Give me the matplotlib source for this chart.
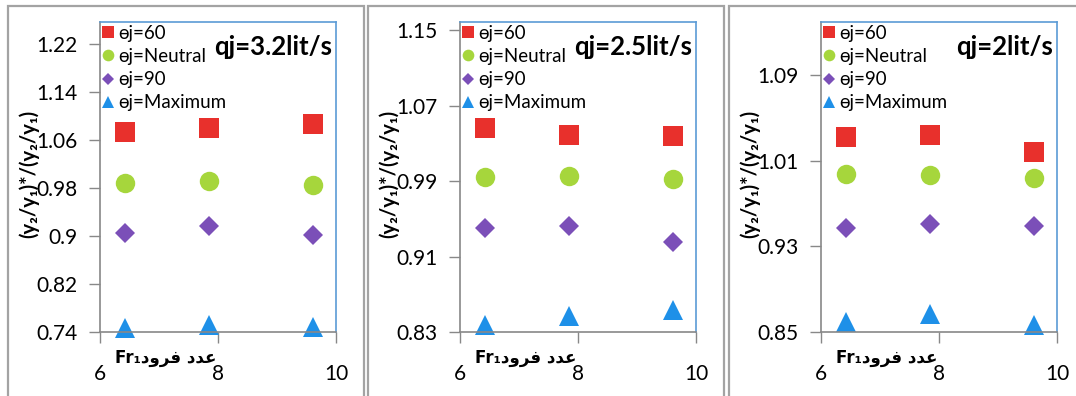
import matplotlib
matplotlib.use("Agg")
from matplotlib import pyplot as plt
from matplotlib.patches import Rectangle

plt.rcParams["font.family"] = ["Lato", "DejaVu Sans"]

# Froude number positions (same for every panel)
fr1 = [6.42, 7.84, 9.61]

series_labels = ["ɵj=60", "ɵj=Neutral", "ɵj=90", "ɵj=Maximum"]

titles = ["qj=3.2lit/s", "qj=2.5lit/s", "qj=2lit/s"]

# qj = 3.2 lit/s
q32_60 = [1.074, 1.080, 1.087]
q32_neutral = [0.988, 0.992, 0.985]
q32_90 = [0.905, 0.916, 0.902]
q32_max = [0.747, 0.752, 0.748]

# qj = 2.5 lit/s
q25_60 = [1.047, 1.039, 1.038]
q25_neutral = [0.995, 0.996, 0.992]
q25_90 = [0.940, 0.943, 0.926]
q25_max = [0.837, 0.847, 0.853]

# qj = 2 lit/s
q2_60 = [1.032, 1.034, 1.018]
q2_neutral = [0.998, 0.997, 0.994]
q2_90 = [0.947, 0.951, 0.949]
q2_max = [0.859, 0.867, 0.857]

y_ticks = [
    [0.74, 0.82, 0.90, 0.98, 1.06, 1.14, 1.22],
    [0.83, 0.91, 0.99, 1.07, 1.15],
    [0.85, 0.93, 1.01, 1.09],
]
y_ticklabels = [
    ["0.74", "0.82", "0.9", "0.98", "1.06", "1.14", "1.22"],
    ["0.83", "0.91", "0.99", "1.07", "1.15"],
    ["0.85", "0.93", "1.01", "1.09"],
]
y_limits = [(0.74, 1.257), (0.83, 1.159), (0.85, 1.140)]
x_ticks = [6, 8, 10]

panels = [
    [q32_60, q32_neutral, q32_90, q32_max],
    [q25_60, q25_neutral, q25_90, q25_max],
    [q2_60, q2_neutral, q2_90, q2_max],
]

styles = [
    dict(marker="s", color="#E8302C", ms=14),
    dict(marker="o", color="#A6D63C", ms=14),
    dict(marker="D", color="#7B4FB8", ms=10.5),
    dict(marker="^", color="#1E90E8", ms=14.5),
]

# Arabic "عدد فرود" in presentation forms, visual (left-to-right) order
x_label = "Fr\u2081\uFEA9\uFEED\uFEAE\uFED3 \uFEA9\uFEAA\uFECB"
y_label = "(y\u2082/y\u2081)*/(y\u2082/y\u2081)"

W, H = 1076, 396
fig = plt.figure(figsize=(W / 100, H / 100), dpi=100)

# outer frames of the three charts
for fx0, fx1 in [(8, 364), (368, 724), (729, 1080)]:
    fig.patches.append(Rectangle((fx0 / W, -0.05), (fx1 - fx0) / W, (H - 6) / H + 0.05,
                                 transform=fig.transFigure, fill=False,
                                 edgecolor="#a3a3a3", linewidth=1.6))

ax_lefts = [100, 460, 821]
for i, left in enumerate(ax_lefts):
    ax = fig.add_axes([left / W, (H - 332) / H, 236 / W, 310 / H])
    for vals, st, lab in zip(panels[i], styles, series_labels):
        ax.plot(fr1, vals, linestyle="none", marker=st["marker"], color=st["color"],
                markersize=st["ms"], markeredgewidth=0, label=lab, clip_on=False)

    ax.set_xlim(6, 10)
    ax.set_ylim(*y_limits[i])
    ax.set_xticks(x_ticks)
    ax.set_yticks(y_ticks[i])
    ax.set_yticklabels(y_ticklabels[i])
    ax.tick_params(axis="y", direction="out", length=8, width=1, color="#888888",
                   labelsize=15, pad=8)
    ax.tick_params(axis="x", direction="out", length=8, width=1, color="#888888",
                   labelsize=15, pad=15)
    for side in ["left", "bottom"]:
        ax.spines[side].set_color("#888888")
        ax.spines[side].set_linewidth(1.2)
    for side in ["top", "right"]:
        ax.spines[side].set_color("#5B9BD5")
        ax.spines[side].set_linewidth(1.2)

    ax.legend(loc="upper left", bbox_to_anchor=(0, 1), frameon=False,
              fontsize=13.5, markerscale=0.6, handlelength=0.6,
              handletextpad=0.2, labelspacing=0.33, borderaxespad=0.05,
              borderpad=0.1)

    ax.text(0.985, 0.92, titles[i], transform=ax.transAxes, ha="right", va="center",
            fontsize=18.5, fontweight="bold")
    ax.text(0.28, -0.084, x_label, transform=ax.transAxes, ha="center", va="center",
            fontsize=12, fontweight="bold", family=["DejaVu Sans"])
    ax.text(-0.30, 0.51, y_label, transform=ax.transAxes, ha="center", va="center",
            rotation=90, fontsize=14.5, fontweight="bold")

fig.savefig("out.png", dpi=100)
